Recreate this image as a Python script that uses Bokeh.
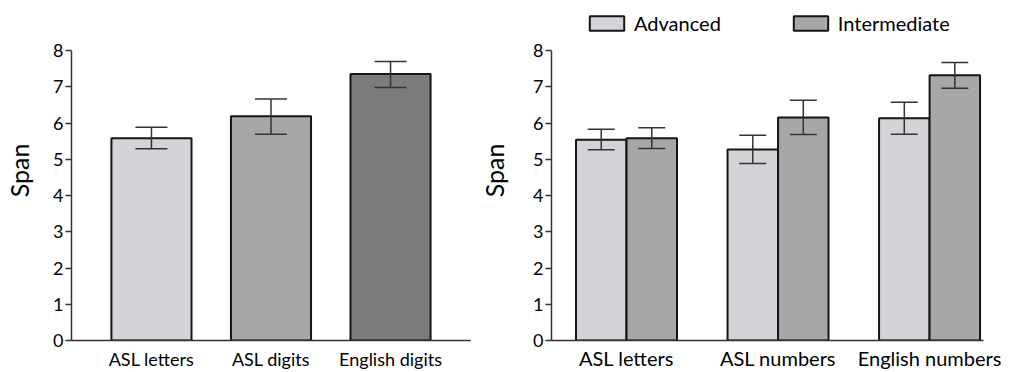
from bokeh.plotting import figure
from bokeh.models import (ColumnDataSource, Range1d, FixedTicker, Whisker, TeeHead,
                          Legend, LegendItem)
from bokeh.layouts import row
from bokeh.embed import file_html
from bokeh.resources import INLINE

# ---------------- data ----------------
left_categories = ["ASL letters", "ASL digits", "English digits"]
left_means = [5.58, 6.19, 7.35]
left_upper = [5.88, 6.66, 7.70]
left_lower = [5.29, 5.69, 6.98]

right_categories = ["ASL letters", "ASL numbers", "English numbers"]
series_names = ["Advanced", "Intermediate"]
adv_means = [5.54, 5.27, 6.13]
adv_upper = [5.83, 5.66, 6.57]
adv_lower = [5.26, 4.88, 5.69]
int_means = [5.58, 6.15, 7.32]
int_upper = [5.87, 6.63, 7.67]
int_lower = [5.30, 5.68, 6.96]

y_ticks = [0, 1, 2, 3, 4, 5, 6, 7, 8]
y_label = "Span"

# ---------------- styles ----------------
FONT = "Lato"
LIGHT = "#d4d3d8"
MID = "#a7a7a9"
DARK = "#7a7b7d"
OUTLINE = "#151515"
AXIS = "#333333"
Y_TOP = 9.38   # extra head-room above the axis (axis itself stops at 8)


def style_axes(p, cats, xfont, xstand):
    p.xgrid.visible = False
    p.ygrid.visible = False
    p.outline_line_color = None
    p.background_fill_color = "white"
    p.border_fill_color = "white"

    xa = p.xaxis[0]
    xa.ticker = FixedTicker(ticks=list(range(len(cats))))
    xa.major_label_overrides = {i: c for i, c in enumerate(cats)}
    xa.major_tick_out = 0
    xa.major_tick_in = 0
    xa.minor_tick_out = 0
    xa.minor_tick_in = 0
    xa.axis_line_color = AXIS
    xa.axis_line_width = 1.5
    xa.major_label_text_font = FONT
    xa.major_label_text_font_size = xfont
    xa.major_label_text_color = "black"
    xa.major_label_standoff = xstand

    ya = p.yaxis[0]
    ya.ticker = FixedTicker(ticks=y_ticks)
    ya.bounds = (y_ticks[0], y_ticks[-1])
    ya.major_tick_out = 6
    ya.major_tick_in = 0
    ya.minor_tick_out = 0
    ya.minor_tick_in = 0
    ya.major_tick_line_color = AXIS
    ya.major_tick_line_width = 1.5
    ya.axis_line_color = AXIS
    ya.axis_line_width = 1.5
    ya.major_label_text_font = FONT
    ya.major_label_text_font_size = "18px"
    ya.major_label_text_color = "black"
    ya.major_label_standoff = 2
    ya.axis_label = y_label
    ya.axis_label_text_font = FONT
    ya.axis_label_text_font_style = "normal"
    ya.axis_label_text_font_size = "25px"
    ya.axis_label_text_color = "black"


# ---------------- left chart ----------------
lx = list(range(len(left_categories)))
left_src = ColumnDataSource(dict(x=lx, top=left_means, upper=left_upper, lower=left_lower,
                                 color=[LIGHT, MID, DARK]))

p1 = figure(width=476, height=372, output_backend="svg", toolbar_location=None,
            x_range=Range1d(-0.669, 2.669), y_range=Range1d(0, Y_TOP),
            min_border_left=71, min_border_right=6, min_border_top=0, min_border_bottom=32)
p1.vbar(x="x", top="top", width=0.67, bottom=0, source=left_src, fill_color="color",
        line_color=OUTLINE, line_width=2)
p1.add_layout(Whisker(source=left_src, base="x", upper="upper", lower="lower", level="overlay",
                      line_color=AXIS, line_width=1.5,
                      upper_head=TeeHead(size=32, line_color=AXIS, line_width=1.5),
                      lower_head=TeeHead(size=32, line_color=AXIS, line_width=1.5)))
style_axes(p1, left_categories, "18px", 7)
p1.yaxis[0].axis_label_standoff = 16

# ---------------- right chart ----------------
rx = list(range(len(right_categories)))
off = 0.1667
adv_src = ColumnDataSource(dict(x=[i - off for i in rx], top=adv_means, upper=adv_upper, lower=adv_lower))
int_src = ColumnDataSource(dict(x=[i + off for i in rx], top=int_means, upper=int_upper, lower=int_lower))

p2 = figure(width=542, height=372, output_backend="svg", toolbar_location=None,
            x_range=Range1d(-0.495, 2.356), y_range=Range1d(0, Y_TOP),
            min_border_left=75, min_border_right=35, min_border_top=0, min_border_bottom=32)
r_adv = p2.vbar(x="x", top="top", width=0.333, bottom=0, source=adv_src, fill_color=LIGHT,
                line_color=OUTLINE, line_width=2)
r_int = p2.vbar(x="x", top="top", width=0.333, bottom=0, source=int_src, fill_color=MID,
                line_color=OUTLINE, line_width=2)
for src in (adv_src, int_src):
    p2.add_layout(Whisker(source=src, base="x", upper="upper", lower="lower", level="overlay",
                          line_color=AXIS, line_width=1.5,
                          upper_head=TeeHead(size=27, line_color=AXIS, line_width=1.5),
                          lower_head=TeeHead(size=27, line_color=AXIS, line_width=1.5)))
style_axes(p2, right_categories, "20px", 5)
p2.yaxis[0].axis_label_standoff = 21

legend = Legend(items=[LegendItem(label=series_names[0], renderers=[r_adv]),
                       LegendItem(label=series_names[1], renderers=[r_int])],
                location=(34, 305), orientation="horizontal",
                glyph_width=43, glyph_height=18, label_standoff=6,
                padding=0, margin=0, spacing=68,
                border_line_color=None, background_fill_alpha=0,
                label_text_font=FONT, label_text_font_size="20px", label_text_color="black")
p2.add_layout(legend, "center")

layout = row(p1, p2)
open("out.html", "w").write(file_html(layout, INLINE))
